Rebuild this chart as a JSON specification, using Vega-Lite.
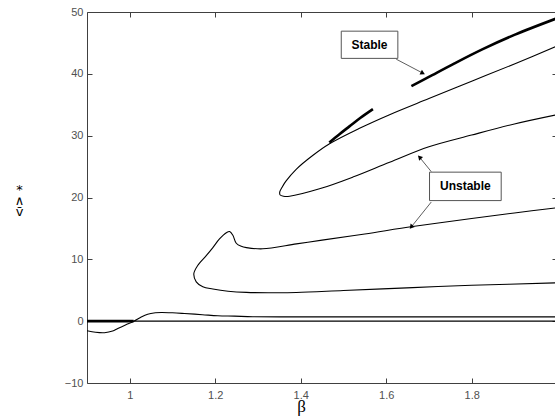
{
  "$schema": "https://vega.github.io/schema/vega-lite/v6.json",
  "autosize": "none",
  "padding": {"left": 87, "top": 12, "right": 0, "bottom": 33},
  "width": 468,
  "height": 371,
  "background": "white",
  "view": {"stroke": null},
  "config": {
    "axis": {
      "grid": false,
      "domainColor": "#404040",
      "tickColor": "#404040",
      "domainWidth": 1,
      "tickWidth": 1,
      "labelColor": "#505050",
      "labelFont": "Liberation Sans",
      "labelFontSize": 11,
      "tickSize": -5
    }
  },
  "datasets": {
    "thin": [
      {"c": "zero", "i": 1, "b": 0.9, "v": 0},
      {"c": "zero", "i": 2, "b": 2.0, "v": 0},
      {"c": "low", "i": 1, "b": 0.9, "v": -1.55},
      {"c": "low", "i": 2, "b": 0.92, "v": -1.8},
      {"c": "low", "i": 3, "b": 0.941, "v": -1.87},
      {"c": "low", "i": 4, "b": 0.96, "v": -1.6},
      {"c": "low", "i": 5, "b": 0.972, "v": -1.18},
      {"c": "low", "i": 6, "b": 0.99, "v": -0.6},
      {"c": "low", "i": 7, "b": 1.0098, "v": 0},
      {"c": "low", "i": 8, "b": 1.025, "v": 0.6},
      {"c": "low", "i": 9, "b": 1.042, "v": 1.13},
      {"c": "low", "i": 10, "b": 1.06, "v": 1.35},
      {"c": "low", "i": 11, "b": 1.074, "v": 1.4},
      {"c": "low", "i": 12, "b": 1.1, "v": 1.35},
      {"c": "low", "i": 13, "b": 1.128, "v": 1.24},
      {"c": "low", "i": 14, "b": 1.17, "v": 1.05},
      {"c": "low", "i": 15, "b": 1.206, "v": 0.87},
      {"c": "low", "i": 16, "b": 1.245, "v": 0.81},
      {"c": "low", "i": 17, "b": 1.288, "v": 0.72},
      {"c": "low", "i": 18, "b": 1.4, "v": 0.7},
      {"c": "low", "i": 19, "b": 1.6, "v": 0.7},
      {"c": "low", "i": 20, "b": 1.8, "v": 0.7},
      {"c": "low", "i": 21, "b": 2.0, "v": 0.7},
      {"c": "bubble", "i": 1, "b": 2.0, "v": 18.35},
      {"c": "bubble", "i": 2, "b": 1.9, "v": 17.5},
      {"c": "bubble", "i": 3, "b": 1.8, "v": 16.6},
      {"c": "bubble", "i": 4, "b": 1.662, "v": 15.3},
      {"c": "bubble", "i": 5, "b": 1.55, "v": 14.1},
      {"c": "bubble", "i": 6, "b": 1.45, "v": 13.1},
      {"c": "bubble", "i": 7, "b": 1.39, "v": 12.5},
      {"c": "bubble", "i": 8, "b": 1.311, "v": 11.7},
      {"c": "bubble", "i": 9, "b": 1.273, "v": 11.9},
      {"c": "bubble", "i": 10, "b": 1.261, "v": 12.1},
      {"c": "bubble", "i": 11, "b": 1.2492, "v": 12.6},
      {"c": "bubble", "i": 12, "b": 1.2413, "v": 13.9},
      {"c": "bubble", "i": 13, "b": 1.2336, "v": 14.5},
      {"c": "bubble", "i": 14, "b": 1.226, "v": 14.3},
      {"c": "bubble", "i": 15, "b": 1.21, "v": 13.3},
      {"c": "bubble", "i": 16, "b": 1.1945, "v": 11.9},
      {"c": "bubble", "i": 17, "b": 1.179, "v": 10.6},
      {"c": "bubble", "i": 18, "b": 1.159, "v": 9.0},
      {"c": "bubble", "i": 19, "b": 1.150, "v": 7.7},
      {"c": "bubble", "i": 20, "b": 1.1556, "v": 6.35},
      {"c": "bubble", "i": 21, "b": 1.171, "v": 5.55},
      {"c": "bubble", "i": 22, "b": 1.1945, "v": 5.2},
      {"c": "bubble", "i": 23, "b": 1.23, "v": 4.85},
      {"c": "bubble", "i": 24, "b": 1.273, "v": 4.65},
      {"c": "bubble", "i": 25, "b": 1.33, "v": 4.6},
      {"c": "bubble", "i": 26, "b": 1.39, "v": 4.63},
      {"c": "bubble", "i": 27, "b": 1.5, "v": 4.95},
      {"c": "bubble", "i": 28, "b": 1.662, "v": 5.43},
      {"c": "bubble", "i": 29, "b": 1.8, "v": 5.8},
      {"c": "bubble", "i": 30, "b": 2.0, "v": 6.2},
      {"c": "cshape", "i": 1, "b": 2.0, "v": 33.4},
      {"c": "cshape", "i": 2, "b": 1.9, "v": 31.9},
      {"c": "cshape", "i": 3, "b": 1.8, "v": 30.1},
      {"c": "cshape", "i": 4, "b": 1.7, "v": 28.2},
      {"c": "cshape", "i": 5, "b": 1.608, "v": 25.7},
      {"c": "cshape", "i": 6, "b": 1.522, "v": 23.3},
      {"c": "cshape", "i": 7, "b": 1.444, "v": 21.4},
      {"c": "cshape", "i": 8, "b": 1.374, "v": 20.2},
      {"c": "cshape", "i": 9, "b": 1.36, "v": 20.2},
      {"c": "cshape", "i": 10, "b": 1.352, "v": 20.4},
      {"c": "cshape", "i": 11, "b": 1.351, "v": 20.9},
      {"c": "cshape", "i": 12, "b": 1.356, "v": 21.6},
      {"c": "cshape", "i": 13, "b": 1.365, "v": 22.6},
      {"c": "cshape", "i": 14, "b": 1.39, "v": 24.6},
      {"c": "cshape", "i": 15, "b": 1.428, "v": 26.8},
      {"c": "cshape", "i": 16, "b": 1.4675, "v": 28.7},
      {"c": "cshape", "i": 17, "b": 1.5377, "v": 31.2},
      {"c": "cshape", "i": 18, "b": 1.608, "v": 33.4},
      {"c": "cshape", "i": 19, "b": 1.7, "v": 36.0},
      {"c": "cshape", "i": 20, "b": 1.8, "v": 38.8},
      {"c": "cshape", "i": 21, "b": 1.9, "v": 41.6},
      {"c": "cshape", "i": 22, "b": 2.0, "v": 44.5}
    ],
    "thick": [
      {"c": "t0", "i": 1, "b": 0.9, "v": 0},
      {"c": "t0", "i": 2, "b": 1.009, "v": 0},
      {"c": "t1", "i": 1, "b": 1.467, "v": 28.9},
      {"c": "t1", "i": 2, "b": 1.49, "v": 30.2},
      {"c": "t1", "i": 3, "b": 1.514, "v": 31.5},
      {"c": "t1", "i": 4, "b": 1.54, "v": 32.9},
      {"c": "t1", "i": 5, "b": 1.569, "v": 34.3},
      {"c": "t2", "i": 1, "b": 1.659, "v": 38.0},
      {"c": "t2", "i": 2, "b": 1.7, "v": 39.5},
      {"c": "t2", "i": 3, "b": 1.76, "v": 41.7},
      {"c": "t2", "i": 4, "b": 1.826, "v": 44.0},
      {"c": "t2", "i": 5, "b": 1.9, "v": 46.3},
      {"c": "t2", "i": 6, "b": 2.0, "v": 49.0}
    ],
    "boxes": [
      {"label": "Stable", "b1": 1.4949, "b2": 1.6273, "v1": 46.9, "v2": 42.5, "bt": 1.561, "vt": 44.7},
      {"label": "Unstable", "b1": 1.7014, "b2": 1.8691, "v1": 24.1, "v2": 19.5, "bt": 1.7853, "vt": 21.8}
    ],
    "arrows": [
      {"id": "s", "b1": 1.6235, "v1": 42.37, "b2": 1.6857, "v2": 40.11},
      {"id": "u1", "b1": 1.7054, "v1": 24.19, "b2": 1.678, "v2": 26.52},
      {"id": "u2", "b1": 1.7054, "v1": 19.26, "b2": 1.6586, "v2": 15.23}
    ]
  },
  "resolve": {"axis": {"x": "independent", "y": "independent"}},
  "layer": [
    {
      "data": {"name": "thin"},
      "mark": {"type": "line", "color": "black", "strokeWidth": 1.1, "clip": true, "interpolate": "catmull-rom"},
      "encoding": {
        "x": {"field": "b", "type": "quantitative", "scale": {"domain": [0.9, 1.995], "nice": false, "zero": false},
          "axis": {"orient": "bottom", "values": [1, 1.2, 1.4, 1.6, 1.8], "format": "~g", "labelPadding": 11,
            "title": "β", "titleFont": "Liberation Serif", "titleFontSize": 17, "titleFontWeight": "normal", "titleColor": "black",
            "titleX": 214, "titleY": 28, "titleAlign": "center", "titleBaseline": "alphabetic"}},
        "y": {"field": "v", "type": "quantitative", "scale": {"domain": [-10, 50], "nice": false, "zero": false},
          "axis": {"orient": "left", "values": [-10, 0, 10, 20, 30, 40, 50], "labelPadding": 9,
            "title": ["*", "∧", "v̄"], "titleFont": "DejaVu Sans", "titleFontSize": 13, "titleFontWeight": "normal", "titleColor": "black",
            "titleAngle": 0, "titleX": -68, "titleY": 171, "titleAlign": "center", "titleBaseline": "top", "titleLineHeight": 11}},
        "detail": {"field": "c"},
        "order": {"field": "i", "type": "quantitative"}
      }
    },
    {
      "data": {"name": "thick"},
      "mark": {"type": "line", "color": "black", "strokeWidth": 2.6, "clip": true, "interpolate": "catmull-rom"},
      "encoding": {
        "x": {"field": "b", "type": "quantitative", "scale": {"domain": [0.9, 1.995], "nice": false, "zero": false},
          "axis": {"orient": "top", "values": [1, 1.2, 1.4, 1.6, 1.8], "labels": false, "title": null}},
        "y": {"field": "v", "type": "quantitative", "scale": {"domain": [-10, 50], "nice": false, "zero": false},
          "axis": {"orient": "right", "values": [-10, 0, 10, 20, 30, 40, 50], "labels": false, "title": null, "domain": false, "tickSize": -3}},
        "detail": {"field": "c"},
        "order": {"field": "i", "type": "quantitative"}
      }
    },
    {
      "data": {"name": "arrows"},
      "mark": {"type": "rule", "color": "#333333", "strokeWidth": 0.8},
      "encoding": {
        "x": {"field": "b1", "type": "quantitative", "scale": {"domain": [0.9, 1.995], "nice": false, "zero": false}, "axis": null},
        "y": {"field": "v1", "type": "quantitative", "scale": {"domain": [-10, 50], "nice": false, "zero": false}, "axis": null},
        "x2": {"field": "b2"},
        "y2": {"field": "v2"}
      }
    },
    {
      "data": {"name": "arrows"},
      "transform": [{"filter": "datum.id === 's'"}],
      "mark": {"type": "point", "shape": "triangle-right", "filled": true, "color": "black", "size": 28, "angle": 26, "opacity": 1},
      "encoding": {
        "x": {"field": "b2", "type": "quantitative", "scale": {"domain": [0.9, 1.995], "nice": false, "zero": false}, "axis": null},
        "y": {"field": "v2", "type": "quantitative", "scale": {"domain": [-10, 50], "nice": false, "zero": false}, "axis": null}
      }
    },
    {
      "data": {"name": "arrows"},
      "transform": [{"filter": "datum.id === 'u1'"}],
      "mark": {"type": "point", "shape": "triangle-right", "filled": true, "color": "black", "size": 28, "angle": 226, "opacity": 1},
      "encoding": {
        "x": {"field": "b2", "type": "quantitative", "scale": {"domain": [0.9, 1.995], "nice": false, "zero": false}, "axis": null},
        "y": {"field": "v2", "type": "quantitative", "scale": {"domain": [-10, 50], "nice": false, "zero": false}, "axis": null}
      }
    },
    {
      "data": {"name": "arrows"},
      "transform": [{"filter": "datum.id === 'u2'"}],
      "mark": {"type": "point", "shape": "triangle-right", "filled": true, "color": "black", "size": 28, "angle": 129, "opacity": 1},
      "encoding": {
        "x": {"field": "b2", "type": "quantitative", "scale": {"domain": [0.9, 1.995], "nice": false, "zero": false}, "axis": null},
        "y": {"field": "v2", "type": "quantitative", "scale": {"domain": [-10, 50], "nice": false, "zero": false}, "axis": null}
      }
    },
    {
      "data": {"name": "boxes"},
      "mark": {"type": "rect", "fill": "white", "stroke": "#555555", "strokeWidth": 1},
      "encoding": {
        "x": {"field": "b1", "type": "quantitative", "scale": {"domain": [0.9, 1.995], "nice": false, "zero": false}, "axis": null},
        "x2": {"field": "b2"},
        "y": {"field": "v1", "type": "quantitative", "scale": {"domain": [-10, 50], "nice": false, "zero": false}, "axis": null},
        "y2": {"field": "v2"}
      }
    },
    {
      "data": {"name": "boxes"},
      "mark": {"type": "text", "font": "Liberation Sans", "fontSize": 12, "fontWeight": "bold", "color": "black", "align": "center", "baseline": "middle"},
      "encoding": {
        "x": {"field": "bt", "type": "quantitative", "scale": {"domain": [0.9, 1.995], "nice": false, "zero": false}, "axis": null},
        "y": {"field": "vt", "type": "quantitative", "scale": {"domain": [-10, 50], "nice": false, "zero": false}, "axis": null},
        "text": {"field": "label"}
      }
    }
  ]
}
